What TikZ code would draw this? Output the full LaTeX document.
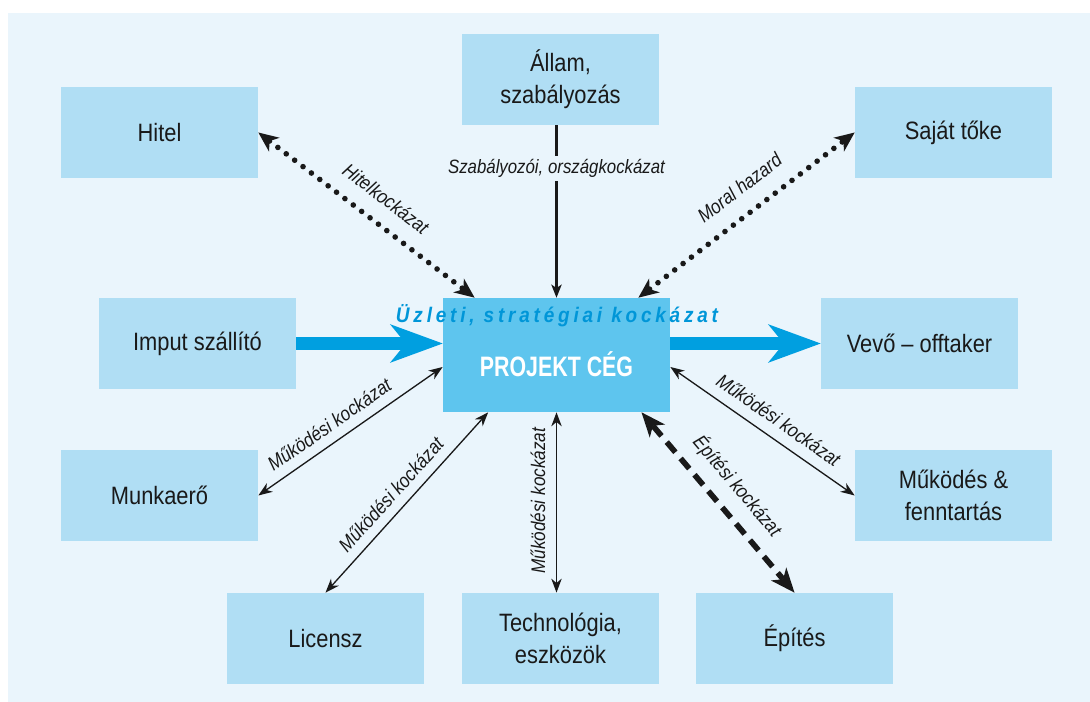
\documentclass[tikz,border=0pt]{standalone}
\usepackage{fontspec}
\setmainfont{Liberation Sans}[FakeStretch=0.87]
\newfontfamily\cegfont{Liberation Sans}[FakeStretch=0.76]
\newfontfamily\uzletfont{Liberation Sans}[FakeStretch=0.9,LetterSpace=18]
\usetikzlibrary{arrows.meta,calc}

\definecolor{panelbg}{RGB}{234,245,252}
\definecolor{boxblue}{RGB}{176,222,244}
\definecolor{cegblue}{RGB}{94,197,238}
\definecolor{flowblue}{RGB}{0,159,224}
\definecolor{textblue}{RGB}{0,150,216}
\definecolor{ink}{RGB}{25,25,25}

\tikzset{
    partner/.style={fill=boxblue, minimum width=3.94cm, minimum height=1.82cm,
        align=center, text=ink, font=\fontsize{14.3}{18}\selectfont},
    ceg/.style={fill=cegblue, minimum width=4.54cm, minimum height=2.28cm,
        text=white, font=\cegfont\bfseries\fontsize{16}{18}\selectfont,
        text height=25pt, text depth=0pt},
    uzleti/.style={text=textblue, inner sep=0pt,
        font=\uzletfont\bfseries\itshape\fontsize{12}{14}\selectfont},
    risklabel/.style={sloped, inner sep=0.5pt, text=ink,
        font=\fontsize{11.2}{13}\selectfont\itshape},
    flow/.style={draw=flowblue, line width=7.4pt,
        -{Stealth[length=30pt,width=22pt,inset=9pt,line width=0pt]}},
    rulearr/.style={draw=ink, line width=1.2pt,
        -{Stealth[length=7.5pt,width=6pt,inset=2pt,line width=0pt]}},
    thinrisk/.style={draw=ink, line width=0.75pt,
        >={Stealth[length=8pt,width=6pt,inset=2.5pt,line width=0pt]}, <->},
    dotrisk/.style={draw=ink, line width=3.2pt, line cap=round,
        dash pattern=on 0pt off 6pt,
        >={Stealth[length=11.5pt,width=10pt,inset=3.5pt,line width=0pt]}, <->},
    dashrisk/.style={draw=ink, line width=3.2pt,
        dash pattern=on 7.6pt off 4.6pt,
        >={Stealth[length=14pt,width=11.5pt,inset=4pt,line width=0pt]}, <->}
}

\begin{document}
\begin{tikzpicture}[x=0.02cm, y=-0.02cm]
    \useasboundingbox (0,0) rectangle (1090,702);
    \fill[panelbg] (8,13) rectangle (1090,702);

    % partners round the project company
    \node[partner] (hitel) at (159.5,132.5) {Hitel};
    \node[partner] (allam) at (560.5,79.5) {Állam,\\szabályozás};
    \node[partner] (sajat) at (953.5,132.5) {Saját tőke};
    \node[partner] (imput) at (197.5,343.5) {Imput szállító};
    \node[partner] (vevo) at (919.5,343.5) {Vevő – offtaker};
    \node[partner] (munkaero) at (159.5,495.5) {Munkaerő};
    \node[partner] (mukodes) at (953.5,495.5) {Működés \&\\fenntartás};
    \node[partner] (licensz) at (325.5,638.5) {Licensz};
    \node[partner] (techn) at (560.5,638.5) {Technológia,\\eszközök};
    \node[partner] (epites) at (794.5,638.5) {Építés};

    \node[ceg] (ceg) at (556.5,355) {PROJEKT CÉG};
    \node[uzleti] (uzleti) at (557,316) {Üzleti, stratégiai kockázat};

    % input and output flows
    \draw[flow] (imput.east) -- (imput.east -| ceg.west);
    \draw[flow] (vevo.west -| ceg.east) -- (vevo.west);

    % risks
    \draw[rulearr] (allam.south -| ceg.north) --
        node[pos=0.25, fill=panelbg, inner sep=2pt, text=ink,
             font=\fontsize{11}{13}\selectfont\itshape]
        {Szabályozói, országkockázat} (ceg.north);
    \draw[dotrisk] (hitel.east) --
        node[risklabel, above=8pt, pos=0.52] {Hitelkockázat} (ceg.145);
    \draw[dotrisk] (ceg.35) --
        node[risklabel, above=8.5pt, pos=0.54] {Moral hazard} (sajat.west);
    \draw[thinrisk] (munkaero.east) --
        node[risklabel, above=5pt, pos=0.44] {Működési kockázat} (ceg.186);
    \draw[thinrisk] (licensz.north) --
        node[risklabel, above=4.7pt, pos=0.48] {Működési kockázat} (ceg.220);
    \draw[thinrisk] (ceg.south |- techn.north) --
        node[risklabel, above=5.5pt, pos=0.51] {Működési kockázat} (ceg.south);
    \draw[thinrisk] (ceg.354) --
        node[risklabel, above=5.5pt, pos=0.53] {Működési kockázat} (mukodes.west);
    \draw[dashrisk] (ceg.326) --
        node[risklabel, above=6.4pt, pos=0.5] {Építési kockázat} (epites.north);
\end{tikzpicture}
\end{document}
